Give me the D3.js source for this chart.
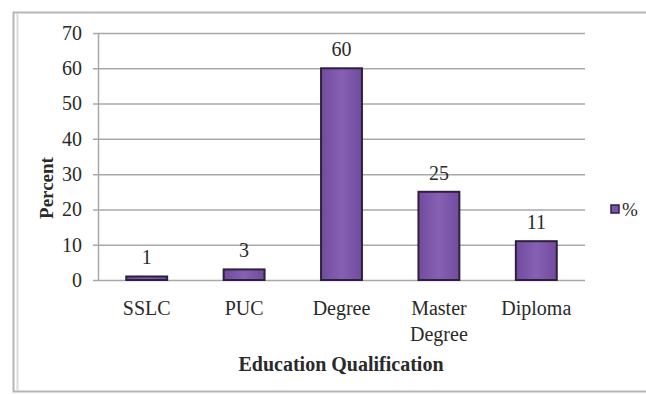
<!DOCTYPE html>
<html><head><meta charset="utf-8">
<script src="https://cdn.jsdelivr.net/npm/d3@7"></script>
<style>body{margin:0;background:#fff}svg{display:block}text{font-family:"Liberation Serif","Times New Roman",serif;fill:#2a2a2a}</style>
</head><body><svg id="c" width="646" height="394"></svg>
<script>
const categories = ["SSLC", "PUC", "Degree", "Master Degree", "Diploma"];
const values = [1, 3, 60, 25, 11];
const yTicks = [0, 10, 20, 30, 40, 50, 60, 70];
const seriesName = "%";

const svg = d3.select("#c");
const defs = svg.append("defs");
const g1 = defs.append("linearGradient").attr("id","bg").attr("x1",0).attr("x2",1).attr("y1",0).attr("y2",0);
g1.append("stop").attr("offset","0%").attr("stop-color","#714b9c");
g1.append("stop").attr("offset","50%").attr("stop-color","#8660b4");
g1.append("stop").attr("offset","100%").attr("stop-color","#714b9c");

// outer frame
svg.append("rect").attr("x",13.5).attr("y",12.5).attr("width",640).attr("height",379)
  .attr("fill","#fff").attr("stroke","#b5b5b5").attr("stroke-width",2);
svg.append("line").attr("x1",17.5).attr("x2",17.5).attr("y1",14).attr("y2",390).attr("stroke","#dcdcdc").attr("stroke-width",2);

const pL = 98, pR = 585, pT = 33, pB = 280;
const x = d3.scaleBand().domain(categories).range([pL, pR]).paddingInner(0.58).paddingOuter(0.29);
const y = d3.scaleLinear().domain([0, 70]).range([pB, pT]);

// gridlines
svg.append("g").selectAll("line").data(yTicks).join("line")
  .attr("x1", pL - 5).attr("x2", pR).attr("y1", d => y(d)+0.5).attr("y2", d => y(d)+0.5)
  .attr("stroke", "#a8a8a8").attr("stroke-width", 1.5);
// y axis line
svg.append("line").attr("x1",pL+0.5).attr("x2",pL+0.5).attr("y1",pT).attr("y2",pB+1)
  .attr("stroke","#a8a8a8").attr("stroke-width",1.5);

// y labels
const yAxis = d3.axisLeft(y).tickValues(yTicks).tickSize(0).tickPadding(16);
const ya = svg.append("g").attr("transform",`translate(${pL},0)`).call(yAxis);
ya.select(".domain").remove();
ya.selectAll("text").attr("font-size",20).attr("font-family","Liberation Serif, serif").attr("fill","#2a2a2a");

// bars
svg.append("g").selectAll("rect").data(values).join("rect")
  .attr("x", (d,i) => x(categories[i]))
  .attr("y", d => y(d))
  .attr("width", x.bandwidth())
  .attr("height", d => y(0) - y(d))
  .attr("fill", "url(#bg)")
  .attr("stroke", "#2e2040").attr("stroke-width", 2);

// value labels
svg.append("g").selectAll("text").data(values).join("text")
  .attr("x", (d,i) => x(categories[i]) + x.bandwidth()/2)
  .attr("y", d => y(d) - 12)
  .attr("text-anchor","middle").attr("font-size",20).text(d => d);

// x labels
const xl = svg.append("g").selectAll("text").data(categories).join("text")
  .attr("x", d => x(d) + x.bandwidth()/2)
  .attr("y", 315)
  .attr("text-anchor","middle").attr("font-size",20);
xl.each(function(d){
  const words = d.split(" ");
  const t = d3.select(this);
  words.forEach((w,i) => t.append("tspan").attr("x", x(d)+x.bandwidth()/2).attr("dy", i===0?0:26).text(w));
});

// axis titles
svg.append("text").attr("x", 341).attr("y", 371).attr("text-anchor","middle")
  .attr("font-size",20).attr("font-weight","bold").text("Education Qualification");
svg.append("text").attr("transform","translate(53,188) rotate(-90)").attr("text-anchor","middle")
  .attr("font-size",19).attr("font-weight","bold").text("Percent");

// legend
svg.append("rect").attr("x",611).attr("y",205).attr("width",8).attr("height",8)
  .attr("fill","#7a55a8").attr("stroke","#2e2040").attr("stroke-width",1.5);
svg.append("text").attr("x",622).attr("y",216).attr("font-size",19).text(seriesName);
</script></body></html>
